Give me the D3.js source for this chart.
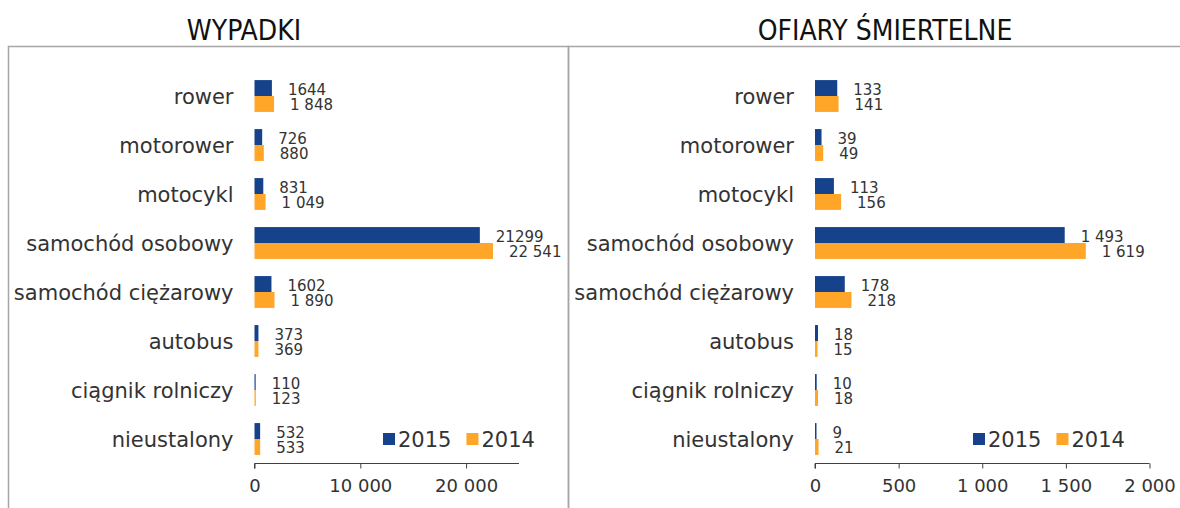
<!DOCTYPE html>
<html>
<head>
<meta charset="utf-8">
<script src="https://cdn.jsdelivr.net/npm/d3@7"></script>
<style>
  body { margin: 0; background: #fff; }
  svg text { font-family: "DejaVu Sans", Verdana, sans-serif; fill: #333; }
  .title { font-family: "DejaVu Sans Condensed", "DejaVu Sans", sans-serif; font-stretch: condensed; fill: #111; }
</style>
</head>
<body>
<svg id="chart" width="1180" height="508"></svg>
<script>
// categories (top to bottom)
let categories = ['rower', 'motorower', 'motocykl', 'samochód osobowy',
                  'samochód ciężarowy', 'autobus', 'ciągnik rolniczy', 'nieustalony'];
let years = ['2015', '2014'];

// WYPADKI
let accidents2015 = [1644, 726, 831, 21299, 1602, 373, 110, 532];
let accidents2014 = [1848, 880, 1049, 22541, 1890, 369, 123, 533];
let accidentsTicks = [0, 10000, 20000];

// OFIARY ŚMIERTELNE
let deaths2015 = [133, 39, 113, 1493, 178, 18, 10, 9];
let deaths2014 = [141, 49, 156, 1619, 218, 15, 18, 21];
let deathsTicks = [0, 500, 1000, 1500, 2000];

let colors = {'2015': '#16418b', '2014': '#ffa629'};

let pl = d3.formatLocale({decimal: ',', thousands: '\u00a0', grouping: [3], currency: ['', ' zł']});
let spaced = pl.format(',d');
let plain = d3.format('d');

let svg = d3.select('#chart');

// panel frames
svg.append('rect').attr('x', 8.5).attr('y', 46.5).attr('width', 560).attr('height', 480)
    .attr('fill', 'none').attr('stroke', '#a6a6a6').attr('stroke-width', 1.5);
svg.append('rect').attr('x', 568.5).attr('y', 46.5).attr('width', 640).attr('height', 480)
    .attr('fill', 'none').attr('stroke', '#a6a6a6').attr('stroke-width', 1.5);

function drawPanel(opt) {
    let g = svg.append('g');

    let x = d3.scaleLinear().domain(opt.domain).range([opt.x0, opt.x1]);
    let y = d3.scaleBand().domain(categories).range([71.5, 463.5])
        .paddingInner(0.35).paddingOuter(0.175);
    let yy = d3.scaleBand().domain(years).range([0, y.bandwidth()]);

    g.append('text').attr('class', 'title')
        .attr('x', opt.titleX).attr('y', 40)
        .attr('text-anchor', 'middle').style('font-size', '28px')
        .text(opt.title);

    let rows = categories.map((c, i) => ({
        cat: c,
        vals: [
            {year: '2015', v: opt.v2015[i], label: opt.fmt2015(opt.v2015[i])},
            {year: '2014', v: opt.v2014[i], label: opt.fmt2014(opt.v2014[i])}
        ]
    }));

    let row = g.selectAll('g.row').data(rows).enter().append('g')
        .attr('transform', d => `translate(0,${y(d.cat)})`);

    row.selectAll('rect').data(d => d.vals).enter().append('rect')
        .attr('x', x(0))
        .attr('y', d => yy(d.year))
        .attr('width', d => Math.max(1, x(d.v) - x(0)))
        .attr('height', yy.bandwidth())
        .attr('fill', d => colors[d.year]);

    row.selectAll('text.val').data(d => d.vals).enter().append('text')
        .attr('class', 'val')
        .attr('x', d => x(d.v) + 16)
        .attr('y', d => yy(d.year) + yy.bandwidth() / 2 + 6.5)
        .style('font-size', '15px')
        .text(d => d.label);

    row.append('text')
        .attr('x', x(0) - 21)
        .attr('y', y.bandwidth() / 2 + 8)
        .attr('text-anchor', 'end')
        .style('font-size', '21px')
        .text(d => d.cat);

    // x axis
    let axis = d3.axisBottom(x).tickValues(opt.ticks).tickSize(5).tickPadding(11)
        .tickFormat(spaced);
    let ax = g.append('g').attr('transform', 'translate(0,463.5)').call(axis);
    ax.select('.domain').attr('stroke', '#404040').attr('d', `M${x(opt.domain[0])},5V0H${x(opt.domain[1])}`);
    ax.selectAll('.tick line').attr('stroke', '#404040');
    ax.selectAll('.tick text').style('font-size', '18px').attr('fill', '#333');

    // legend
    let lg = g.append('g').attr('transform', `translate(${opt.legendX},445)`);
    let cx = 0;
    years.forEach(yr => {
        lg.append('rect').attr('x', cx).attr('y', -12).attr('width', 12).attr('height', 12)
            .attr('fill', colors[yr]);
        let t = lg.append('text').attr('x', cx + 15).attr('y', 2)
            .style('font-size', '21px').text(yr);
        cx += 15 + t.node().getComputedTextLength() + 15;
    });
}

drawPanel({
    title: 'WYPADKI', titleX: 244,
    v2015: accidents2015, v2014: accidents2014,
    fmt2015: plain, fmt2014: spaced,
    domain: [0, 25000], ticks: accidentsTicks,
    x0: 254.5, x1: 519, legendX: 383
});

drawPanel({
    title: 'OFIARY ŚMIERTELNE', titleX: 885,
    v2015: deaths2015, v2014: deaths2014,
    fmt2015: spaced, fmt2014: spaced,
    domain: [0, 2000], ticks: deathsTicks,
    x0: 815, x1: 1149.5, legendX: 973
});
</script>
</body>
</html>
